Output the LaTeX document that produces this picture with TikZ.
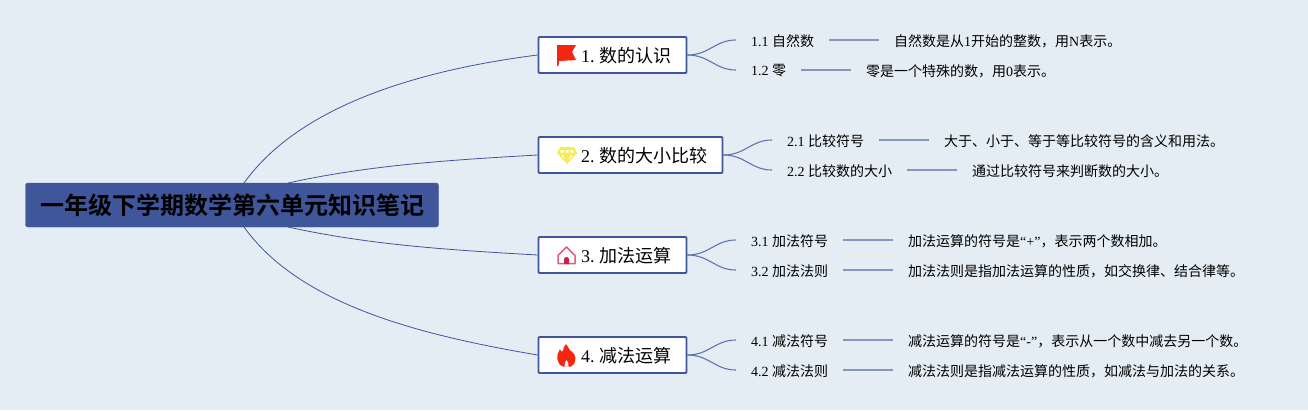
\documentclass[tikz,border=0pt]{standalone}
\usepackage{fontspec}
\setmainfont{Liberation Serif}
\newfontfamily\cjk{Noto Sans CJK SC}
\newfontfamily\cjkb{Noto Sans CJK SC Bold}
\definecolor{bgc}{HTML}{E4EDF3}
\definecolor{navy}{HTML}{3F569B}
\definecolor{branch}{HTML}{6275AE}
\definecolor{leafc}{HTML}{8495C0}
\definecolor{flagred}{HTML}{F4260F}
\definecolor{gem}{HTML}{F6EC55}
\definecolor{house}{HTML}{DE5F82}
\definecolor{door}{HTML}{C9204F}
\tikzset{x=1pt,y=-1pt,
 root/.style={fill=navy,draw=navy,rounded corners=2.5pt,minimum width=413pt,minimum height=44pt,inner sep=0pt,font=\fontsize{24}{26}\cjkb,text=black},
 topic/.style={fill=white,draw=navy,line width=1.8pt,rounded corners=1pt,minimum height=36pt,inner sep=0pt},
 topiclabel/.style={anchor=west,inner sep=0pt,font=\fontsize{18}{20}\selectfont},
 sub/.style={anchor=west,inner sep=0pt,font=\fontsize{14}{16}\selectfont},
 leaf/.style={anchor=west,inner sep=0pt,font=\fontsize{14}{16}\selectfont},
 thin link/.style={draw=navy,line width=.8pt},
 fork/.style={draw=branch,line width=1.1pt},
 leaf link/.style={draw=leafc,line width=1.2pt}}
\begin{document}
\begin{tikzpicture}
\useasboundingbox (0,0) rectangle (1308,410);
\fill[bgc] (0,0) rectangle (1308,410);
\coordinate (rt1) at (244,183);
\coordinate (rt2) at (288,183);
\coordinate (rb3) at (288,227);
\coordinate (rb4) at (244,227);
\node[topic,minimum width=148pt] (t1) at (612.5,55) {};
\node[topic,minimum width=184pt] (t2) at (630.5,155) {};
\node[topic,minimum width=148pt] (t3) at (612.5,255) {};
\node[topic,minimum width=148pt] (t4) at (612.5,355) {};
\draw[thin link] (rt1) .. controls (300,105) and (420,70) .. (t1.west);
\draw[thin link] (rt2) .. controls (370,165) and (450,160) .. (t2.west);
\draw[thin link] (rb3) .. controls (370,245) and (450,250) .. (t3.west);
\draw[thin link] (rb4) .. controls (300,305) and (420,335) .. (t4.west);
\node[root] (r) at (232,205) {\raisebox{-1.5pt}{一年级下学期数学第六单元知识笔记}};
% topic labels
\node[topiclabel] (l1) at (581,56) {1.\hspace{5pt}{\cjk 数的认识}};
\node[topiclabel] (l2) at (581,156) {2.\hspace{5pt}{\cjk 数的大小比较}};
\node[topiclabel] (l3) at (581,256) {3.\hspace{5pt}{\cjk 加法运算}};
\node[topiclabel] (l4) at (581,356) {4.\hspace{5pt}{\cjk 减法运算}};
% icons
\fill[flagred] (557,45) -- (576,45) -- (572,52) -- (576,60) -- (559,61) -- (558.5,66) -- (557,66) -- cycle;
\fill[gem,even odd rule] (560,147) -- (574,147) -- (577,153) -- (567,164) -- (557,153) -- cycle
  (561,150) -- (564.5,150) -- (563.5,152.5) -- (560,152.5) -- cycle
  (569.5,150) -- (573,150) -- (574,152.5) -- (570.5,152.5) -- cycle
  (566,150) -- (568,150) -- (569,152.5) -- (565,152.5) -- cycle
  (561,155) -- (563.5,155) -- (565.5,160) -- cycle
  (570.5,155) -- (573,155) -- (568.5,160) -- cycle;
\draw[house,line width=1.5pt,line join=round] (558,255.5) -- (566.5,247) -- (575,255.5) -- (575,263.5) -- (558,263.5) -- cycle;
\fill[door] (564,264) -- (564,259) .. controls (564,256.5) and (569,256.5) .. (569,259) -- (569,264) -- cycle;
\fill[flagred] (566,344) .. controls (569,348) and (570,351) .. (571,351) .. controls (576,354) and (578,362) .. (571,366.5) -- (563,366.5) .. controls (556,364) and (556,355) .. (560,349) .. controls (561,352) and (562,352) .. (563,351) .. controls (563,349) and (564,346) .. (566,344) -- cycle;
\fill[white] (566.5,360) .. controls (568,362) and (569,364) .. (568.5,366.5) -- (564.5,366.5) .. controls (564,364) and (565.5,362) .. (566.5,360) -- cycle;
% subs
\node[sub] (s11) at (751,41) {1.1 {\cjk 自然数}};
\node[sub] (s12) at (751,71) {1.2 {\cjk 零}};
\node[sub] (s21) at (787,141) {2.1 {\cjk 比较符号}};
\node[sub] (s22) at (787,171) {2.2 {\cjk 比较数的大小}};
\node[sub] (s31) at (751,241) {3.1 {\cjk 加法符号}};
\node[sub] (s32) at (751,271) {3.2 {\cjk 加法法则}};
\node[sub] (s41) at (751,341) {4.1 {\cjk 减法符号}};
\node[sub] (s42) at (751,371) {4.2 {\cjk 减法法则}};
% leaves
\node[leaf] (n11) at (894,41) {{\cjk 自然数是从}1{\cjk 开始的整数，用}N{\cjk 表示。}};
\node[leaf] (n12) at (866,71) {{\cjk 零是一个特殊的数，用}0{\cjk 表示。}};
\node[leaf] (n21) at (944,141) {{\cjk 大于、小于、等于等比较符号的含义和用法。}};
\node[leaf] (n22) at (972,171) {{\cjk 通过比较符号来判断数的大小。}};
\node[leaf] (n31) at (908,241) {{\cjk 加法运算的符号是}“+”{\cjk ，表示两个数相加。}};
\node[leaf] (n32) at (908,271) {{\cjk 加法法则是指加法运算的性质，如交换律、结合律等。}};
\node[leaf] (n41) at (908,341) {{\cjk 减法运算的符号是}“-”{\cjk ，表示从一个数中减去另一个数。}};
\node[leaf] (n42) at (908,371) {{\cjk 减法法则是指减法运算的性质，如减法与加法的关系。}};
% forks
\foreach \t/\a/\b in {t1/s11/s12,t2/s21/s22,t3/s31/s32,t4/s41/s42}{
 \draw[fork] (\t.east) .. controls ([xshift=22pt]\t.east) and ([xshift=-36pt,yshift=1pt]\a.west) .. ([xshift=-15pt,yshift=1pt]\a.west);
 \draw[fork] (\t.east) .. controls ([xshift=22pt]\t.east) and ([xshift=-36pt,yshift=1pt]\b.west) .. ([xshift=-15pt,yshift=1pt]\b.west);
}
\foreach \a/\b in {s11/n11,s12/n12,s21/n21,s22/n22,s31/n31,s32/n32,s41/n41,s42/n42}{
 \draw[leaf link] ([xshift=15pt,yshift=1pt]\a.east) -- ([xshift=-15pt,yshift=1pt]\b.west);
}
\end{tikzpicture}
\end{document}
